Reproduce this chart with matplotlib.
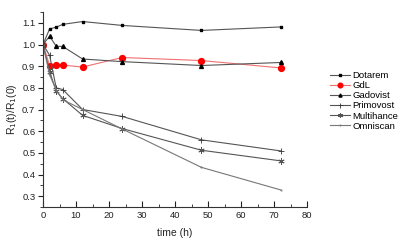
import matplotlib
matplotlib.use("Agg")
import matplotlib.pyplot as plt
from matplotlib.ticker import MultipleLocator

plt.rcParams["font.family"] = ["Liberation Sans", "DejaVu Sans"]

time = [0, 2, 4, 6, 12, 24, 48, 72]
dotarem = [1.0, 1.072, 1.080, 1.093, 1.106, 1.088, 1.065, 1.081]
gdl = [1.0, 0.903, 0.905, 0.905, 0.896, 0.940, 0.926, 0.892]
gadovist = [1.0, 1.038, 0.992, 0.991, 0.933, 0.921, 0.903, 0.917]
primovost = [1.0, 0.950, 0.800, 0.792, 0.700, 0.668, 0.560, 0.509]
multihance = [1.0, 0.875, 0.785, 0.750, 0.673, 0.612, 0.512, 0.463]
omniscan = [1.0, 0.860, 0.790, 0.745, 0.700, 0.610, 0.433, 0.329]

fig = plt.figure(figsize=(4.0, 2.44), dpi=100)
ax = fig.add_axes([43/400, 1-207/244, (307-43)/400, (207-12)/244])

lc = "#555555"
ax.plot(time, dotarem, color=lc, lw=0.8, marker="s", ms=2.0, mfc="black", mec="black", label="Dotarem")
ax.plot(time, gdl, color="#f07070", lw=0.8, marker="o", ms=4.2, mfc="red", mec="red", label="GdL")
ax.plot(time, gadovist, color=lc, lw=0.8, marker="^", ms=2.8, mfc="black", mec="black", label="Gadovist")
ax.plot(time, primovost, color=lc, lw=0.8, marker="+", ms=4.5, mew=0.6, mec="#333333", label="Primovost")
ax.plot(time, multihance, color=lc, lw=0.8, marker=(6, 2, 0), ms=4.5, mew=0.6, mec="#555555", label="Multihance")
ax.plot(time, omniscan, color="#777777", lw=0.8, marker=".", ms=1, label="Omniscan")

ax.set_xlim(0, 80)
ax.set_ylim(0.25, 1.15)
ax.xaxis.set_major_locator(MultipleLocator(10))
ax.xaxis.set_minor_locator(MultipleLocator(5))
ax.yaxis.set_minor_locator(MultipleLocator(0.05))
ax.set_yticks([0.3, 0.4, 0.5, 0.6, 0.7, 0.8, 0.9, 1.0, 1.1])
ax.tick_params(axis="x", which="both", direction="in", labelsize=6.8, colors="#222222", pad=3)
ax.tick_params(axis="x", which="major", length=4)
ax.tick_params(axis="x", which="minor", length=2)
ax.tick_params(axis="y", which="both", direction="out", labelsize=6.8, colors="#222222", pad=2)
ax.tick_params(axis="y", which="major", length=3.5)
ax.tick_params(axis="y", which="minor", length=2)
ax.spines["top"].set_visible(False)
ax.spines["right"].set_visible(False)
for s in ("left", "bottom"):
    ax.spines[s].set_color("#333333")
    ax.spines[s].set_linewidth(0.8)

ax.set_xlabel("time (h)", fontsize=7.5, color="#222222", labelpad=6)
ax.set_ylabel("R$_1$(t)/R$_1$(0)", fontsize=7.5, color="#222222", labelpad=2)

leg = fig.legend(loc="upper left", bbox_to_anchor=(330/400, 1-71/244), frameon=False,
                 fontsize=6.8, handlelength=2.1, handletextpad=0.25, labelspacing=0.12,
                 borderaxespad=0, borderpad=0, markerscale=0.8)

fig.savefig("out.png", dpi=100)
